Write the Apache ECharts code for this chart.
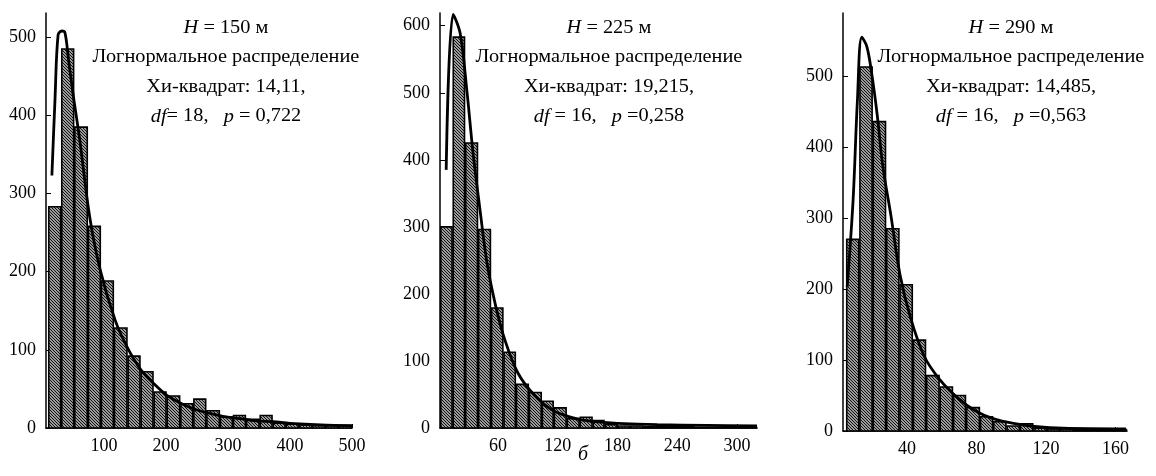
<!DOCTYPE html>
<html>
<head>
<meta charset="utf-8">
<script src="https://cdn.jsdelivr.net/npm/echarts@6/dist/echarts.min.js"></script>
<style>
  html, body { margin: 0; padding: 0; background: #fff; }
  #chart { width: 1156px; height: 476px; }
</style>
</head>
<body>
<div id="chart"></div>
<script>
// bin edges (x) and counts (y)
const edges150 = [10, 31, 52, 74, 95, 116, 138, 159, 180, 201, 223, 244, 265, 287, 308, 329, 351, 372, 393, 414, 436, 457, 478, 500];
const counts150 = [283, 485, 385, 258, 188, 128, 92, 72, 46, 41, 31, 37, 22, 14, 16, 11, 16, 6, 5, 4, 3, 3, 3];
const fit150 = [[16, 323], [21, 420], [26, 503], [32, 508], [37, 506], [43, 470], [50, 428], [61, 368], [77, 270], [94, 202], [118, 138], [137, 104], [158, 76], [180, 57], [201, 42], [223, 32], [250, 23], [292, 15], [319, 12], [346, 9], [373, 8], [400, 6], [450, 4], [500, 3]];

const edges225 = [2, 14.5, 27, 40, 53, 65.5, 78, 91, 104, 116, 129, 142, 155, 167, 180, 193, 206, 218, 231, 244, 257, 269, 282, 295, 307, 320];
const counts225 = [300, 583, 425, 296, 179, 113, 65, 53, 40, 30, 14, 16, 11, 5, 3, 3, 2, 2, 2, 2, 1, 1, 1, 1, 1];
const fit225 = [[8, 385], [15, 617], [22, 589], [29, 500], [35, 410], [42, 325], [49, 246], [58, 180], [67, 131], [80, 82], [97, 48], [114, 27], [131, 17], [144, 12], [160, 9], [180, 7], [220, 5], [270, 4], [320, 3]];

const edges290 = [5, 12.6, 20.3, 28, 35.7, 43.4, 51, 58.8, 66.5, 74, 82, 89.6, 97.3, 105, 112.7, 120.4, 128, 135.8, 143.5, 151, 159, 166.6];
const counts290 = [270, 513, 436, 285, 206, 128, 78, 62, 50, 33, 20, 13, 7, 10, 4, 3, 3, 2, 2, 2, 2];
const fit290 = [[5.6, 203], [9, 325], [11.5, 466], [14, 555], [17, 541], [20, 499], [23, 443], [26, 375], [31, 300], [36, 220], [42, 160], [50, 105], [59, 72], [69, 47], [79, 29], [90, 17], [103, 10], [115, 6], [130, 4], [166, 3]];

const xTicks150 = [100, 200, 300, 400, 500];
const xTicks225 = [60, 120, 180, 240, 300];
const xTicks290 = [40, 80, 120, 160];
const yTicks150 = [0, 100, 200, 300, 400, 500];
const yTicks225 = [0, 100, 200, 300, 400, 500, 600];
const yTicks290 = [0, 100, 200, 300, 400, 500];

const captions = [
  ['{i|H} = 150 м', 'Логнормальное распределение', 'Хи-квадрат: 14,11,', '{i|df}= 18,   {i|p} = 0,722'],
  ['{i|H} = 225 м', 'Логнормальное распределение', 'Хи-квадрат: 19,215,', '{i|df} = 16,   {i|p} =0,258'],
  ['{i|H} = 290 м', 'Логнормальное распределение', 'Хи-квадрат: 14,485,', '{i|df} = 16,   {i|p} =0,563']
];

const FONT = 'Liberation Serif';

function hatch() {
  const c = document.createElement('canvas');
  c.width = 3; c.height = 3;
  const g = c.getContext('2d');
  g.fillStyle = '#9c9c9c';
  g.fillRect(0, 0, 3, 3);
  g.fillStyle = '#111';
  for (let i = 0; i < 3; i++) g.fillRect(i, i, 1, 1);
  return c;
}
const fillPattern = { image: hatch(), repeat: 'repeat' };

function toBins(edges, counts) {
  return counts.map((c, i) => [edges[i], edges[i + 1], c]);
}

const panels = [
  { left: 46, top: 13, width: 306, height: 415, xmin: 6.5, xmax: 500, ymax: 531, ticks: xTicks150, yticks: yTicks150, bins: toBins(edges150, counts150), fit: fit150, cx: 226 },
  { left: 440, top: 13, width: 317, height: 415, xmin: 1.8, xmax: 320, ymax: 619, ticks: xTicks225, yticks: yTicks225, bins: toBins(edges225, counts225), fit: fit225, cx: 609 },
  { left: 843, top: 13, width: 284, height: 418, xmin: 3.2, xmax: 166.6, ymax: 589, ticks: xTicks290, yticks: yTicks290, bins: toBins(edges290, counts290), fit: fit290, cx: 1011 }
];

const chart = echarts.init(document.getElementById('chart'));

const axisLine = { show: true, lineStyle: { color: '#000', width: 1.5 } };
const axisLabel = { color: '#000', fontFamily: FONT, fontSize: 18 };

const graphic = [];
panels.forEach((p, k) => {
  captions[k].forEach((t, j) => {
    graphic.push({
      type: 'text',
      x: p.cx, y: 28 + j * 29.5,
      scaleX: 1.07,
      style: {
        text: t, textAlign: 'center', textVerticalAlign: 'middle',
        fontFamily: FONT, fontSize: 19, fill: '#000',
        rich: { i: { fontStyle: 'italic', fontFamily: FONT, fontSize: 19 } }
      }
    });
  });
});
graphic.push({
  type: 'text', x: 583, y: 455,
  style: { text: 'б', textAlign: 'center', textVerticalAlign: 'middle', fontFamily: FONT, fontStyle: 'italic', fontSize: 20, fill: '#000' }
});

const option = {
  backgroundColor: '#fff',
  animation: false,
  grid: panels.map(p => ({ left: p.left, top: p.top, width: p.width, height: p.height })),
  xAxis: panels.map((p, i) => ({
    type: 'value', gridIndex: i, min: p.xmin, max: p.xmax,
    axisLine: axisLine,
    axisTick: { show: true, inside: true, length: 4, customValues: p.ticks, lineStyle: { color: '#000' } },
    axisLabel: Object.assign({ margin: 9, customValues: p.ticks }, axisLabel),
    splitLine: { show: false }
  })),
  yAxis: panels.map((p, i) => ({
    type: 'value', gridIndex: i, min: 0, max: p.ymax, interval: 100,
    axisLine: axisLine,
    axisTick: { show: true, inside: true, length: 5, customValues: p.yticks, lineStyle: { color: '#000' } },
    axisLabel: Object.assign({ margin: 10, customValues: p.yticks }, axisLabel),
    splitLine: { show: false }
  })),
  series: [].concat(
    panels.map((p, i) => ({
      type: 'custom', xAxisIndex: i, yAxisIndex: i,
      data: p.bins,
      encode: { x: [0, 1], y: 2 },
      renderItem: (params, api) => {
        const a = api.coord([api.value(0), api.value(2)]);
        const b = api.coord([api.value(1), 0]);
        return {
          type: 'rect',
          shape: { x: a[0] + 0.6, y: a[1], width: b[0] - a[0] - 1.2, height: b[1] - a[1] },
          style: { fill: fillPattern, stroke: '#000', lineWidth: 1.6 }
        };
      }
    })),
    panels.map((p, i) => ({
      type: 'line', xAxisIndex: i, yAxisIndex: i,
      data: p.fit, smooth: 0.35, showSymbol: false,
      lineStyle: { color: '#000', width: 2.8 }
    }))
  ),
  graphic: graphic
};

chart.setOption(option);
</script>
</body>
</html>
